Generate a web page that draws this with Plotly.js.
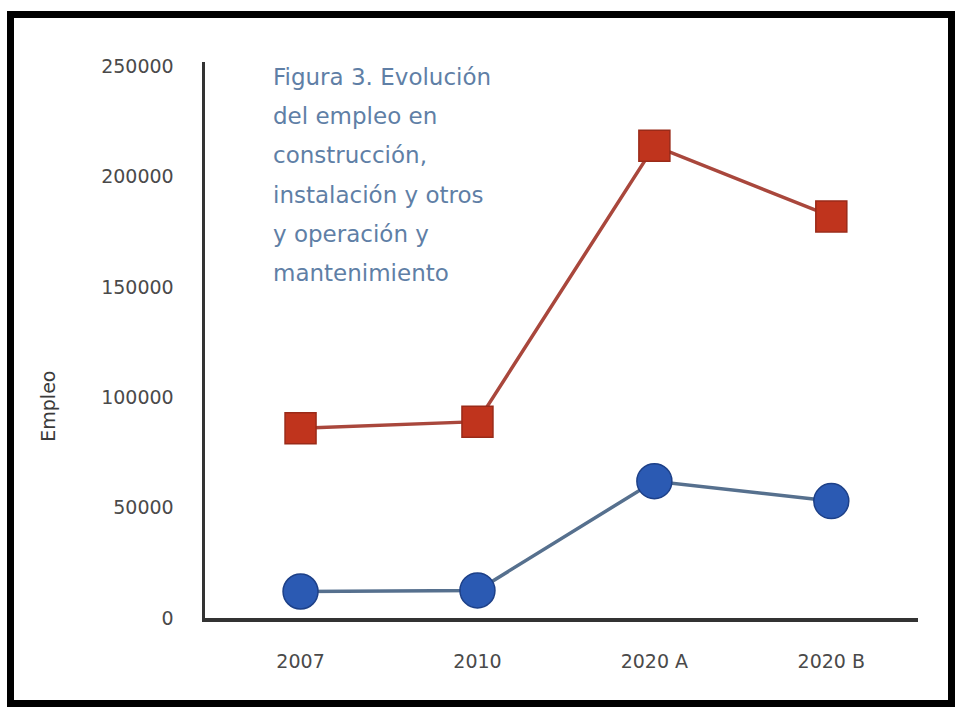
<!DOCTYPE html>
<html>
<head>
<meta charset="utf-8">
<script src="https://cdn.plot.ly/plotly-3.0.1.min.js"></script>
<style>
  html, body { margin: 0; padding: 0; background: #ffffff; }
  #chart { width: 955px; height: 707px; position: absolute; left: 0; top: 0; }
  #frame { position: absolute; left: 7px; top: 11px; width: 934px; height: 682px;
           border: 7px solid #000; pointer-events: none; }
</style>
</head>
<body>
<div id="chart"></div>
<div id="frame"></div>
<script>
// Data
const categories = ["2007", "2010", "2020 A", "2020 B"];
const seriesRed = [86000, 89000, 214000, 182000];
const seriesBlue = [12000, 12500, 62000, 53000];
const yTickValues = [0, 50000, 100000, 150000, 200000, 250000];
const yTickLabels = ["0", "50000", "100000", "150000", "200000", "250000"];
const yTitle = "Empleo";
const noteLines = ["Figura 3. Evolución", "del empleo en", "construcción,",
                   "instalación y otros", "y operación y", "mantenimiento"];

const traces = [
  {
    x: categories, y: seriesRed, type: "scatter", mode: "lines+markers",
    line: { color: "#a9473c", width: 3.5 },
    marker: { symbol: "square", size: 31, color: "#c0341d", line: { color: "#9a2a18", width: 1.5 } },
    showlegend: false, hoverinfo: "skip"
  },
  {
    x: categories, y: seriesBlue, type: "scatter", mode: "lines+markers",
    line: { color: "#56708e", width: 3.5 },
    marker: { symbol: "circle", size: 35, color: "#2b5ab3", line: { color: "#1d4088", width: 1.5 } },
    showlegend: false, hoverinfo: "skip"
  }
];

const annotations = noteLines.map((t, i) => ({
  text: t, xref: "paper", yref: "paper",
  x: 0.092, y: 1.0 - i * 0.0705,
  xanchor: "left", yanchor: "top", showarrow: false,
  font: { family: "DejaVu Sans, Liberation Sans, sans-serif", size: 23, color: "#5f7fa6" }
}));
annotations.push({
  text: yTitle, xref: "paper", yref: "paper",
  x: 0, xshift: -157, y: 0.38, xanchor: "center", yanchor: "middle",
  textangle: -90, showarrow: false,
  font: { family: "DejaVu Sans, Liberation Sans, sans-serif", size: 19, color: "#3a3a3a" }
});

const layout = {
  width: 955, height: 707,
  margin: { l: 205, r: 37, t: 62, b: 89 },
  paper_bgcolor: "#ffffff", plot_bgcolor: "#ffffff",
  font: { family: "DejaVu Sans, Liberation Sans, sans-serif", color: "#444" },
  xaxis: {
    type: "category", range: [-0.54, 3.49],
    showgrid: false, zeroline: false,
    showline: true, linecolor: "#333", linewidth: 3.5,
    ticks: "", ticklabelstandoff: 24,
    tickfont: { size: 19, color: "#4a4a4a" }
  },
  yaxis: {
    range: [0, 252000], tickvals: yTickValues, ticktext: yTickLabels,
    showgrid: false, zeroline: false,
    showline: true, linecolor: "#333", linewidth: 3.5,
    ticks: "", ticklabelstandoff: 24,
    tickfont: { size: 19, color: "#4a4a4a" }
  },
  annotations: annotations
};

Plotly.newPlot("chart", traces, layout, { displayModeBar: false, staticPlot: true });
</script>
</body>
</html>
